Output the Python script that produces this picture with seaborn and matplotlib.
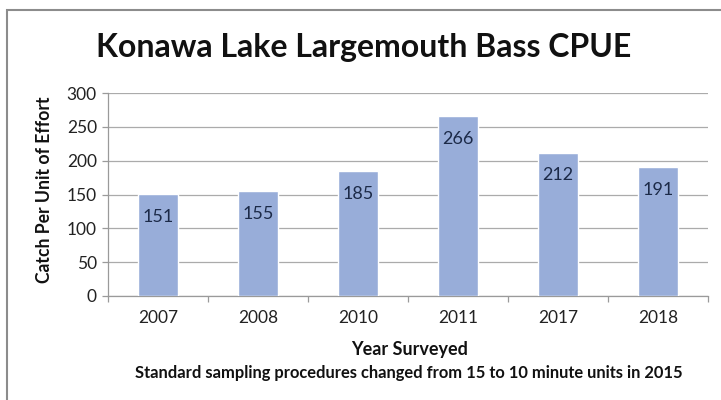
import matplotlib
matplotlib.use("Agg")
import matplotlib.pyplot as plt
from matplotlib.patches import Rectangle
from matplotlib.ticker import FixedLocator, NullFormatter
import seaborn as sns
import pandas as pd

# Survey data
years = ["2007", "2008", "2010", "2011", "2017", "2018"]
cpue = [151, 155, 185, 266, 212, 191]
y_ticks = [0, 50, 100, 150, 200, 250, 300]

title = "Konawa Lake Largemouth Bass CPUE"
x_label = "Year Surveyed"
y_label = "Catch Per Unit of Effort"
note = "Standard sampling procedures changed from 15 to 10 minute units in 2015"

sns.set_theme(style="white")
plt.rcParams["font.family"] = ["Lato", "DejaVu Sans"]

df = pd.DataFrame({"year": years, "cpue": cpue})

fig = plt.figure(figsize=(7.21, 4.0), dpi=100)
W, H = 721, 400
ax = fig.add_axes([108 / W, (H - 296) / H, 600 / W, 203 / H])

bar_color = "#98ADD9"
sns.barplot(data=df, x="year", y="cpue", order=years, color=bar_color,
            width=0.4, saturation=1, ax=ax, zorder=3)

ax.set_ylim(0, 300)
ax.set_xlim(-0.5, len(years) - 0.5)
ax.set_yticks(y_ticks)
ax.yaxis.grid(True, color="#ABABAB", linewidth=0.9, zorder=0)
ax.xaxis.grid(False)

for side in ["top", "right"]:
    ax.spines[side].set_visible(False)
for side in ["left", "bottom"]:
    ax.spines[side].set_visible(True)
    ax.spines[side].set_color("#9A9A9A")
    ax.spines[side].set_linewidth(0.9)

# category boundary ticks on the x axis
ax.xaxis.set_minor_locator(FixedLocator([i - 0.5 for i in range(len(years) + 1)]))
ax.xaxis.set_minor_formatter(NullFormatter())
ax.tick_params(axis="x", which="major", length=0, labelsize=12.5, pad=10,
               labelcolor="#222222")
ax.tick_params(axis="x", which="minor", length=4, width=0.9, color="#9A9A9A",
               direction="out", bottom=True)
ax.tick_params(axis="y", which="major", length=4, width=0.9, color="#9A9A9A",
               direction="out", left=True, labelsize=12.5, pad=4,
               labelcolor="#222222")

ax.set_xlabel("")
ax.set_ylabel("")

# value labels inside the bars, near the top
for i, v in enumerate(cpue):
    ax.annotate(str(v), xy=(i, v), xytext=(0, -16.5), textcoords="offset points",
                ha="center", va="center", fontsize=13, color="#1C2A48", zorder=4)

fig.text(364 / W, 1 - 47 / H, title, ha="center", va="center",
         fontsize=23, fontweight="bold", color="#111111")
fig.text(45 / W, 1 - 190 / H, y_label, ha="center", va="center", rotation=90,
         fontsize=12.7, fontweight="bold", color="#111111")
fig.text(410 / W, 1 - 349 / H, x_label, ha="center", va="center",
         fontsize=13, fontweight="bold", color="#111111")
fig.text(409 / W, 1 - 373 / H, note, ha="center", va="center",
         fontsize=11.9, fontweight="bold", color="#111111")

# outer chart frame
fig.patches.append(Rectangle((7 / W, -0.05), 1.0, 1 - 10 / H + 0.05,
                             transform=fig.transFigure, fill=False,
                             edgecolor="#8C8C8C", linewidth=1.5))

fig.savefig("out.png", dpi=100)
